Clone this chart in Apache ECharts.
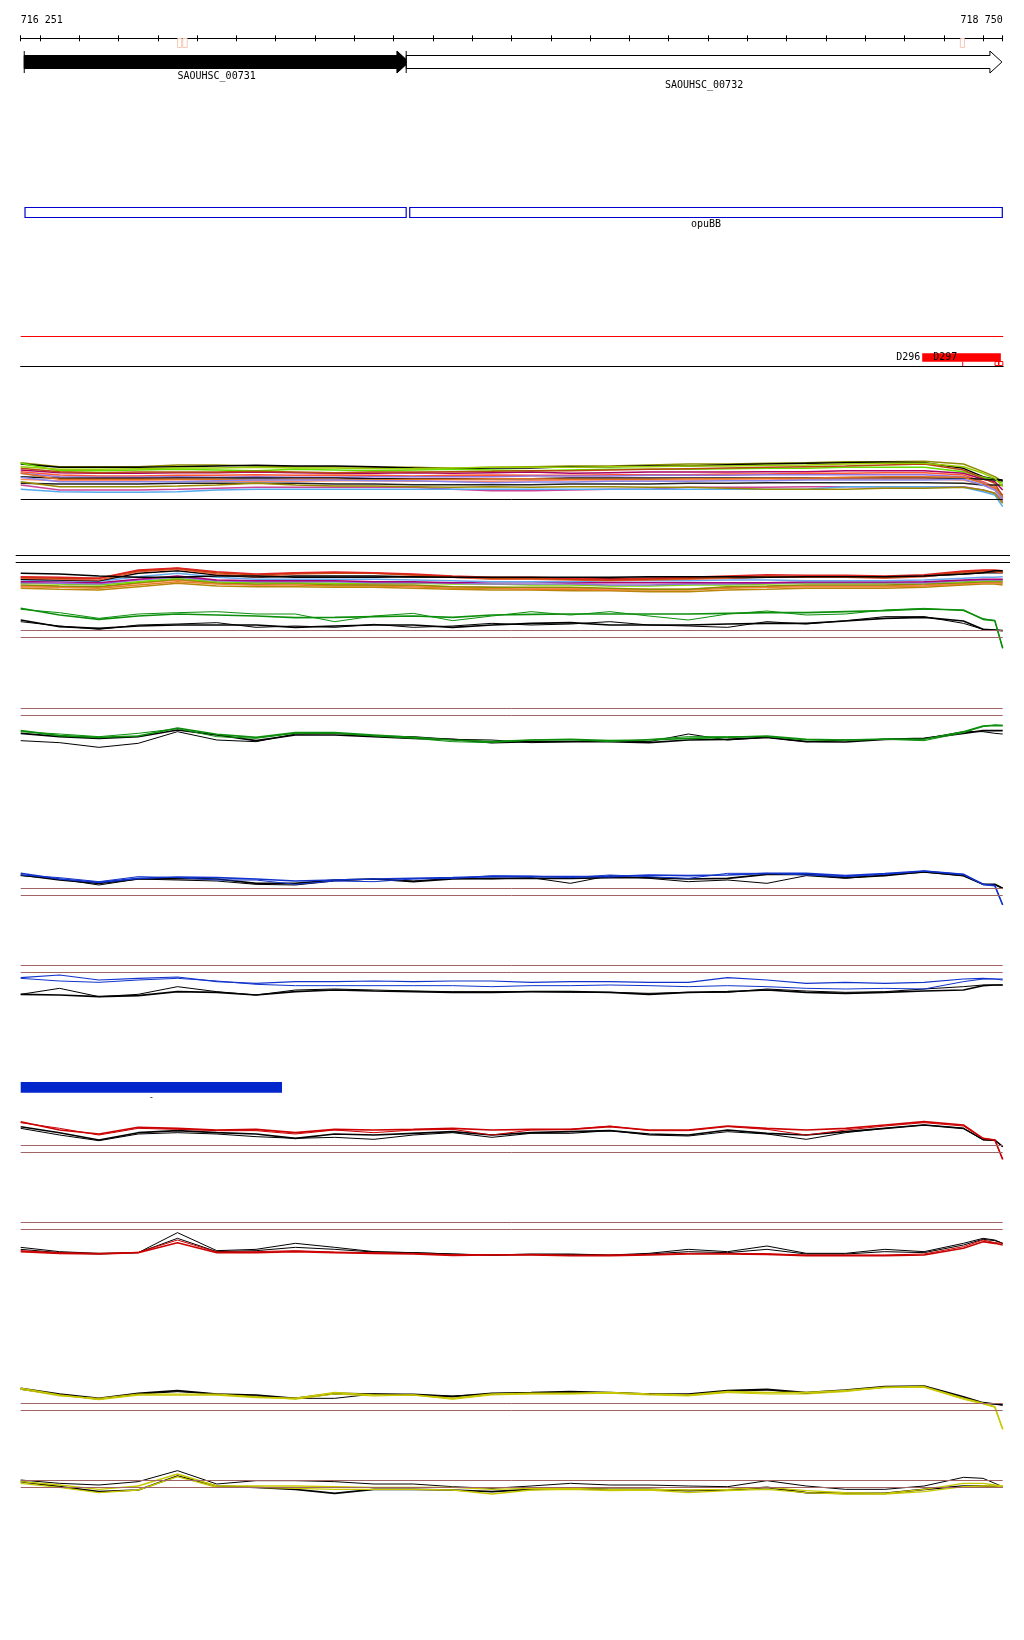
<!DOCTYPE html>
<html><head><meta charset="utf-8">
<script src="https://cdn.jsdelivr.net/npm/echarts@6/dist/echarts.min.js"></script>
<style>html,body{margin:0;padding:0;background:#fff}#c{width:1024px;height:1640px}</style>
</head><body><div id="c"></div>
<script>
// ---------- DATA ----------
const startBp = 716251, endBp = 718750;
const rulerTicks = [716251,716300,716400,716500,716600,716700,716800,716900,717000,717100,717200,717300,717400,717500,717600,717700,717800,717900,718000,718100,718200,718300,718400,718500,718600,718700,718750];
const rulerLabels = [716251, 718750];
const rulerMarks = [[716649,716662],[716662,716676],[718641,718654]];

const geneNames = ['SAOUHSC_00731','SAOUHSC_00732'];
const geneStarts = [716260, 717232];
const geneEnds = [717239, 718748];
const geneFilled = [1, 0];

const operonNames = ['', 'opuBB'];
const operonStarts = [716262, 717241];
const operonEnds = [717232, 718749];

const dLabels = ['D296', 'D297'];
const dBox = [718544, 718744];
const dTicks = [718647];
const dSquares = [[718728,718738],[718738,718749]];

const barStart = 716251, barEnd = 716916, barLabel = '-';

const pos = [716251,716350,716450,716550,716650,716750,716850,716950,717050,717150,717250,717350,717450,717550,717650,717750,717850,717950,718050,718150,718250,718350,718450,718550,718650,718700,718730,718750];

// bundle 1 (depth units)
const b1_olive  = [68,80,80,80,75,75,78,80,80,82,82,85,82,80,78,78,75,72,72,70,68,65,65,64,72,95,110,125];
const b1_black  = [72,82,82,82,80,78,76,78,78,80,84,86,84,84,80,80,78,78,74,72,70,68,66,68,85,110,118,120];
const b1_lime   = [70,92,92,90,88,90,92,88,90,92,90,88,90,92,90,88,88,88,86,85,85,82,82,82,95,112,120,130];
const b1_magenta= [90,98,100,100,98,98,96,98,100,100,98,100,98,96,100,98,96,96,96,95,95,92,92,92,100,118,125,150];
const b1_tomato = [95,105,108,108,106,106,104,106,105,106,108,106,105,106,106,104,104,104,102,102,100,100,98,98,105,125,140,165];
const b1_rust   = [85,95,98,96,96,96,94,96,98,96,96,95,94,92,92,90,88,86,84,82,80,78,75,72,90,115,130,170];
const b1_purple = [100,110,112,112,110,112,110,112,112,110,110,110,110,108,108,108,106,106,106,104,104,104,104,104,110,128,145,175];
const b1_black2 = [110,115,115,115,114,114,114,114,114,116,116,116,116,116,114,114,114,114,114,114,114,114,114,114,115,118,120,122];
const b1_salmon = [118,122,122,122,124,124,124,124,122,122,124,124,124,122,120,120,120,120,120,120,118,118,118,118,120,135,150,180];
const b1_black3 = [130,132,132,132,130,130,130,130,132,132,134,134,134,134,132,132,132,130,130,128,128,128,128,128,130,135,135,135];
const b1_orchid = [135,150,150,150,148,145,142,142,142,142,142,148,152,152,150,148,148,142,142,142,140,140,140,140,140,150,160,185];
const b1_sky    = [148,155,157,157,155,150,148,148,148,148,148,148,148,148,148,148,148,148,148,148,148,140,140,140,142,155,165,200];
const b1_khaki  = [125,140,140,140,138,135,130,135,138,138,140,142,140,142,140,140,142,142,145,148,148,148,145,145,142,150,160,190];
const b1_orange = [100,118,118,118,118,118,120,118,118,120,118,118,116,116,118,118,118,116,116,115,115,112,110,110,112,130,145,175];
const b1_ygreen = [80,88,88,86,84,84,82,84,84,86,86,84,82,82,82,80,80,78,78,76,75,72,70,70,80,100,115,140];
const b1_peri   = [112,125,125,125,125,122,120,120,120,122,122,125,128,126,126,124,124,124,122,122,120,120,120,120,118,135,150,178];
const b1_base = 178;

// bundle 2
const b2_black  = [100,102,108,112,112,108,108,112,112,112,110,112,112,112,112,112,110,110,110,112,110,110,110,108,102,98,92,92];
const b2_rust   = [112,115,115,92,85,98,105,100,98,100,104,110,115,115,118,120,118,115,112,108,110,110,112,108,95,92,92,95];
const b2_coral  = [115,118,120,95,88,102,110,102,100,100,106,112,118,118,120,122,120,118,115,110,112,112,115,110,98,95,95,98];
const b2_black2 = [118,120,122,100,92,105,112,108,108,108,110,112,115,115,115,115,115,115,115,112,112,112,112,108,102,98,98,98];
const b2_sky    = [120,122,124,110,100,112,118,118,118,118,120,122,125,125,125,122,122,122,120,120,122,122,122,120,115,112,112,110];
const b2_magenta= [125,125,128,118,108,120,122,122,122,125,125,128,125,125,128,128,128,128,128,128,126,126,126,125,120,118,118,118];
const b2_lime   = [130,132,135,125,115,125,128,128,130,130,130,132,132,135,135,138,138,135,135,132,130,130,130,128,125,122,122,122];
const b2_olive  = [135,138,140,128,118,128,132,130,135,135,135,140,142,142,142,145,148,148,140,138,135,135,135,132,128,125,125,125];
const b2_orange = [140,142,145,135,125,132,135,135,138,138,140,145,145,148,148,150,150,150,145,142,140,140,140,138,132,128,128,130];
const b2_salmon = [138,140,142,130,120,130,135,132,132,135,138,140,142,145,145,148,148,148,142,140,138,138,138,135,130,128,128,128];
const b2_purple = [128,130,132,120,112,122,125,125,125,128,128,130,132,132,132,135,135,132,132,130,128,128,128,128,122,120,120,120];
const b2_gold   = [145,148,150,140,130,138,140,140,142,142,145,148,150,150,152,152,155,155,150,148,145,145,145,142,135,132,132,135];
const b2_red    = [110,112,115,90,84,95,102,98,96,98,102,108,112,112,115,118,115,112,108,104,106,106,108,104,93,90,90,92];

// green track 1
const g1_greenA = [205,225,238,228,222,225,228,233,232,230,228,232,225,223,222,222,222,222,220,218,218,215,212,207,210,238,242,325];
const g1_greenB = [208,218,235,222,218,215,222,222,245,228,220,242,228,215,225,215,228,240,222,213,225,222,210,205,212,236,242,325];
const g1_blackA = [240,260,265,258,255,255,255,262,258,255,255,262,255,250,248,255,255,255,252,250,250,243,235,232,243,268,270,272];
const g1_blackB = [245,258,268,255,252,248,262,258,262,253,262,258,250,255,252,245,255,258,262,245,252,242,230,230,250,268,270,272];
const g1_ref = [270, 292];
// green track 2
const g2_greenA = [122,137,142,138,114,133,142,128,128,135,142,150,155,150,148,152,150,145,142,138,148,150,147,148,125,108,106,107];
const g2_greenB = [125,132,140,130,116,140,145,130,130,138,145,155,158,150,149,155,148,140,140,140,150,150,148,152,128,110,105,106];
const g2_blackA = [130,140,145,140,120,135,152,135,135,140,145,148,158,155,155,155,158,150,148,142,155,156,148,145,130,122,122,122];
const g2_blackB = [152,158,172,160,125,150,155,132,130,138,140,148,150,158,155,152,155,132,150,142,155,150,148,146,125,125,130,132];
const g2_ref = [55, 76];
// blue track 1
const u1_blueA  = [55,72,82,70,66,68,72,78,75,72,70,68,65,65,65,65,60,62,60,55,55,62,56,48,58,88,92,150];
const u1_blueB  = [60,68,80,65,68,75,75,88,78,80,72,70,62,63,68,60,65,70,55,55,60,65,58,48,58,88,92,150];
const u1_blackA = [60,75,85,72,70,72,85,85,75,72,80,72,70,70,70,68,68,72,70,58,58,68,62,50,62,88,88,100];
const u1_blackB = [62,72,90,72,75,78,88,90,78,72,78,70,72,68,85,62,70,80,75,85,62,70,60,52,62,88,90,100];
const u1_ref = [100, 121];
// blue track 2
const u2_blueA  = [368,360,375,370,366,380,385,380,380,378,380,378,378,382,380,380,382,382,368,375,385,382,385,382,372,370,372,372];
const u2_blueB  = [370,378,382,375,370,378,388,392,392,392,392,392,395,392,392,390,392,395,392,395,400,402,400,402,380,372,372,375];
const u2_blackA = [418,420,425,422,410,412,420,410,405,408,410,412,412,410,410,412,418,412,410,405,412,415,412,408,405,392,390,390];
const u2_blackB = [418,400,425,418,395,410,420,405,402,405,408,410,410,410,412,412,415,412,412,402,408,412,410,402,395,390,390,390];
const u2_ref = [330, 352];
// red track 1
const r1_redA   = [185,210,222,202,205,210,208,218,208,210,208,205,210,208,208,200,210,210,198,205,210,205,195,185,195,235,240,298];
const r1_redB   = [188,205,225,205,208,212,212,222,210,218,210,208,225,210,208,198,212,212,200,208,225,210,198,188,198,235,240,298];
const r1_blackA = [200,218,240,218,212,218,222,235,222,225,220,215,225,218,215,212,222,225,210,220,225,215,205,195,205,238,240,260];
const r1_blackB = [205,225,242,222,218,222,230,235,232,238,225,218,232,220,220,212,225,228,215,222,238,218,205,195,205,240,242,260];
const r1_ref = [256, 277];
// red track 2
const r2_redA   = [125,130,132,128,98,128,128,125,128,130,132,136,135,135,137,137,135,132,132,133,137,137,137,135,115,95,100,105];
const r2_redB   = [122,128,130,127,90,126,125,122,126,128,130,134,134,133,136,135,133,130,130,131,135,135,135,132,110,90,98,100];
const r2_blackA = [112,125,130,128,68,122,118,100,112,125,128,132,135,132,132,135,130,118,125,108,130,130,118,125,100,85,90,100];
const r2_blackB = [118,128,132,128,85,125,122,112,118,126,128,132,136,134,134,136,132,125,128,118,132,132,125,128,105,88,92,100];
const r2_ref = [37, 58];
// yellow track 1
const y1_yelA   = [55,75,88,75,75,75,82,85,68,75,75,85,72,70,70,68,72,75,65,68,68,62,52,50,85,100,110,178];
const y1_yelB   = [58,78,85,72,72,72,80,88,72,78,75,88,75,72,72,70,75,78,68,72,72,65,52,52,88,102,112,178];
const y1_blackA = [55,72,85,70,62,72,75,85,70,72,75,80,70,68,65,68,72,72,62,58,68,60,50,48,80,98,102,105];
const y1_blackB = [58,75,88,72,65,72,78,85,85,72,72,78,72,70,68,68,72,75,65,60,70,62,52,50,82,100,102,105];
const y1_ref = [100, 121];
// yellow track 2
const y2_blackA = [90,100,105,95,62,102,92,92,95,102,102,110,115,108,100,105,105,108,110,92,108,118,118,108,82,85,100,110];
const y2_blackB = [95,110,125,120,78,108,112,118,130,118,118,120,125,118,115,118,118,122,120,112,128,130,130,118,108,108,110,110];
const y2_yelA   = [95,105,118,108,72,108,108,108,110,112,112,112,118,115,115,118,118,120,118,112,122,128,130,118,100,100,105,108];
const y2_yelB   = [100,112,128,120,80,112,112,115,118,118,118,120,132,120,118,122,120,128,122,118,128,132,132,125,110,108,108,110];
const y2_ref = [90, 111];

// ---------- CHART ----------
const FONT = '10px "DejaVu Sans Mono", monospace';
const L = 20.7, W = 982;
const grid = [], xAxis = [], yAxis = [], series = [];
function addGrid(top, height, ymin, ymax, inverse) {
  const g = grid.length;
  grid.push({left: L, top: top, width: W, height: height});
  const x = xAxis.length;
  xAxis.push({type: 'value', gridIndex: g, min: startBp, max: endBp, show: false});
  const y = yAxis.length;
  yAxis.push({type: 'value', gridIndex: g, min: ymin, max: ymax, inverse: !!inverse, show: false});
  return {g: g, x: x, y: y};
}
function lineSeries(ax, vals, color, width, step) {
  return {
    type: 'line', xAxisIndex: ax.x, yAxisIndex: ax.y, silent: true, animation: false,
    symbol: 'none', step: step || false,
    data: pos.map((p, k) => [p, vals[k]]),
    lineStyle: {color: color, width: width}
  };
}
function refLines(vals, color) {
  return {silent: true, symbol: 'none', animation: false, label: {show: false},
    lineStyle: {color: color || '#a06464', width: 1, type: 'solid'},
    emphasis: {disabled: true},
    data: vals.map(v => ({yAxis: v}))};
}

// ruler
const rg = grid.length;
grid.push({left: L, top: 14, width: W, height: 24.3});
xAxis.push({type: 'value', gridIndex: rg, min: startBp, max: endBp, position: 'bottom',
  axisLine: {show: true, lineStyle: {color: '#000', width: 1}},
  axisTick: {show: true, customValues: rulerTicks, length: 3, inside: false, lineStyle: {color: '#000'}},
  axisLabel: {show: false}, splitLine: {show: false}});
xAxis.push({type: 'value', gridIndex: rg, min: startBp, max: endBp, position: 'bottom',
  axisLine: {show: false},
  axisTick: {show: true, customValues: rulerTicks, length: 3, inside: true, lineStyle: {color: '#000'}},
  axisLabel: {show: false}, splitLine: {show: false}});
yAxis.push({type: 'value', gridIndex: rg, min: 0, max: 1, show: false});
series.push({
  type: 'custom', xAxisIndex: 0, yAxisIndex: 0, silent: true, animation: false,
  data: rulerLabels.map(v => [v]),
  renderItem: function (params, api) {
    const p = api.coord([api.value(0), 0]);
    const s = String(api.value(0)).replace(/(\d{3})(\d{3})/, '$1 $2');
    return {type: 'text', style: {text: s, x: p[0], y: 20, font: FONT, fill: '#000',
      align: params.dataIndex === 0 ? 'left' : 'right', verticalAlign: 'middle'}};
  }
});
series.push({
  type: 'custom', xAxisIndex: 0, yAxisIndex: 0, silent: true, animation: false,
  data: rulerMarks,
  renderItem: function (params, api) {
    const a = api.coord([api.value(0), 0]), b = api.coord([api.value(1), 0]);
    return {type: 'rect', shape: {x: a[0] + 0.5, y: 38.5, width: b[0] - a[0] - 1, height: 9},
      style: {fill: 'none', stroke: '#f6c8b6', lineWidth: 1}};
  }
});

// genes
const ga = addGrid(51, 22, 0, 1);
series.push({
  type: 'custom', xAxisIndex: ga.x, yAxisIndex: ga.y, silent: true, animation: false,
  data: geneStarts.map((s, i) => [s, geneEnds[i], geneFilled[i]]),
  renderItem: function (params, api) {
    const a = api.coord([api.value(0), 0.5]), b = api.coord([api.value(1), 0.5]);
    const cy = 62, x0 = a[0], x1 = b[0], bh = 6.5, hh = 11, hl = 12;
    const pts = [[x0, cy - bh], [x1 - hl, cy - bh], [x1 - hl, cy - hh], [x1, cy], [x1 - hl, cy + hh], [x1 - hl, cy + bh], [x0, cy + bh]];
    const filled = api.value(2) === 1;
    return {type: 'group', children: [
      {type: 'polygon', shape: {points: pts}, style: {fill: filled ? '#000' : '#fff', stroke: '#000', lineWidth: 1}},
      {type: 'line', shape: {x1: x0, y1: cy - hh, x2: x0, y2: cy + hh}, style: {stroke: '#000', lineWidth: 1}},
      {type: 'text', style: {text: geneNames[params.dataIndex], x: (x0 + x1) / 2, y: cy + 14 + (params.dataIndex % 2) * 9,
        font: FONT, fill: '#000', align: 'center', verticalAlign: 'middle'}}
    ]};
  }
});

// operon boxes
const oa = addGrid(207, 10, 0, 1);
series.push({
  type: 'custom', xAxisIndex: oa.x, yAxisIndex: oa.y, silent: true, animation: false,
  data: operonStarts.map((s, i) => [s, operonEnds[i]]),
  renderItem: function (params, api) {
    const a = api.coord([api.value(0), 1]), b = api.coord([api.value(1), 0]);
    return {type: 'group', children: [
      {type: 'rect', shape: {x: a[0], y: a[1] + 0.5, width: b[0] - a[0], height: b[1] - a[1]},
        style: {fill: 'none', stroke: '#0000d0', lineWidth: 1.2}},
      {type: 'text', style: {text: operonNames[params.dataIndex], x: (a[0] + b[0]) / 2, y: b[1] + 7,
        font: FONT, fill: '#000', align: 'center', verticalAlign: 'middle'}}
    ]};
  }
});

// D track (red line + features + baseline)
const dg = grid.length;
grid.push({left: L, top: 330, width: W + 0.5, height: 36});
const dx = xAxis.length;
xAxis.push({type: 'value', gridIndex: dg, min: startBp, max: endBp, position: 'bottom',
  axisLine: {show: true, lineStyle: {color: '#000', width: 1.2}}, axisTick: {show: false},
  axisLabel: {show: false}, splitLine: {show: false}});
const dy = yAxis.length;
yAxis.push({type: 'value', gridIndex: dg, min: 0, max: 36, show: false});
series.push({
  type: 'custom', xAxisIndex: dx, yAxisIndex: dy, silent: true, animation: false,
  data: [dBox],
  markLine: refLines([30], '#ff0000'),
  renderItem: function (params, api) {
    const a = api.coord([api.value(0), 0]), b = api.coord([api.value(1), 0]);
    const base = a[1];
    return {type: 'group', children: [
      {type: 'rect', shape: {x: a[0], y: base - 12.7, width: b[0] - a[0], height: 8.4}, style: {fill: '#ff0000'}},
      {type: 'text', style: {text: dLabels[0], x: a[0] - 2, y: base - 8.5, font: FONT, fill: '#000', align: 'right', verticalAlign: 'middle'}},
      {type: 'text', style: {text: dLabels[1], x: a[0] + 11, y: base - 8.5, font: FONT, fill: '#000', align: 'left', verticalAlign: 'middle'}}
    ]};
  }
});
series.push({
  type: 'custom', xAxisIndex: dx, yAxisIndex: dy, silent: true, animation: false,
  data: dTicks.map(v => [v]),
  renderItem: function (params, api) {
    const a = api.coord([api.value(0), 0]);
    return {type: 'line', shape: {x1: a[0], y1: a[1] - 4.5, x2: a[0], y2: a[1]}, style: {stroke: '#ff0000', lineWidth: 1}};
  }
});
series.push({
  type: 'custom', xAxisIndex: dx, yAxisIndex: dy, silent: true, animation: false,
  data: dSquares,
  renderItem: function (params, api) {
    const a = api.coord([api.value(0), 0]), b = api.coord([api.value(1), 0]);
    return {type: 'rect', shape: {x: a[0] + 0.5, y: a[1] - 4.5, width: b[0] - a[0] - 0.5, height: 4}, style: {fill: 'none', stroke: '#ff0000', lineWidth: 1}};
  }
});

// bundle 1
const p1 = addGrid(455, 55, 45, 210, true);
const b1 = [[b1_olive,'#8c8c00'],[b1_black,'#000000'],[b1_lime,'#66dd00'],[b1_magenta,'#aa0066'],[b1_tomato,'#ff5533'],
  [b1_rust,'#b84a10'],[b1_purple,'#9370db'],[b1_black2,'#111111'],[b1_salmon,'#ff8866'],[b1_black3,'#222222'],
  [b1_orchid,'#cc4499'],[b1_sky,'#55aaee'],[b1_khaki,'#998800'],[b1_orange,'#e07020'],[b1_ygreen,'#99cc00'],[b1_peri,'#8888ee']];
b1.forEach((d, i) => {
  const s = lineSeries(p1, d[0], d[1], 1.5);
  if (i === 0) s.markLine = refLines([b1_base], '#000');
  series.push(s);
});

// bundle 2
const p2 = addGrid(565, 35, 75, 180, true);
const b2 = [[b2_gold,'#b8860b'],[b2_orange,'#e08020'],[b2_salmon,'#ff7f50'],[b2_olive,'#8c8c00'],[b2_lime,'#77dd00'],
  [b2_purple,'#9370db'],[b2_magenta,'#aa0077'],[b2_sky,'#66aaee'],[b2_black2,'#000000'],[b2_coral,'#e06040'],
  [b2_rust,'#c04000'],[b2_red,'#dd2222'],[b2_black,'#000000']];
b2.forEach(d => series.push(lineSeries(p2, d[0], d[1], 1.5)));

function trackPanel(top, height, vmin, vmax, lines, ref) {
  const ax = addGrid(top, height, vmin, vmax, true);
  lines.forEach((d, i) => {
    const s = lineSeries(ax, d[0], d[1], d[2]);
    if (i === 0) s.markLine = refLines(ref);
    series.push(s);
  });
}
const GREEN = '#0d8f0d', BLUE = '#1133cc', RED = '#cc0000', YEL = '#c8c800', BLK = '#000000';
trackPanel(600, 52, 180, 336, [[g1_blackB, BLK, 1],[g1_blackA, BLK, 1.6],[g1_greenB, GREEN, 1],[g1_greenA, GREEN, 1.6]], g1_ref);
trackPanel(700, 55, 30, 195, [[g2_blackB, BLK, 1],[g2_blackA, BLK, 1.6],[g2_greenB, GREEN, 1],[g2_greenA, GREEN, 1.6]], g2_ref);
trackPanel(862, 48, 21, 165, [[u1_blackB, BLK, 1],[u1_blackA, BLK, 1.6],[u1_blueB, BLUE, 1],[u1_blueA, BLUE, 1.6]], u1_ref);
trackPanel(960, 42, 315, 441, [[u2_blackB, BLK, 1],[u2_blackA, BLK, 1.6],[u2_blueB, BLUE, 1],[u2_blueA, BLUE, 1.2]], u2_ref);

// blue bar
const bb = addGrid(1082, 10.7, 0, 1);
series.push({
  type: 'custom', xAxisIndex: bb.x, yAxisIndex: bb.y, silent: true, animation: false,
  data: [[barStart, barEnd]],
  renderItem: function (params, api) {
    const a = api.coord([api.value(0), 1]), b = api.coord([api.value(1), 0]);
    return {type: 'group', children: [
      {type: 'rect', shape: {x: a[0], y: a[1], width: b[0] - a[0], height: b[1] - a[1]}, style: {fill: '#0026cc'}},
      {type: 'text', style: {text: barLabel, x: (a[0] + b[0]) / 2, y: b[1] + 5, font: '8px "DejaVu Sans Mono"', fill: '#000', align: 'center', verticalAlign: 'middle'}}
    ]};
  }
});

trackPanel(1110, 52, 150, 306, [[r1_blackB, BLK, 1],[r1_blackA, BLK, 1.6],[r1_redB, RED, 1],[r1_redA, RED, 1.6]], r1_ref);
trackPanel(1218, 47, 24, 165, [[r2_blackA, BLK, 1],[r2_blackB, BLK, 1],[r2_redB, RED, 1],[r2_redA, RED, 1.6]], r2_ref);
trackPanel(1378, 54, 24, 186, [[y1_blackB, BLK, 1],[y1_blackA, BLK, 1.6],[y1_yelB, YEL, 1],[y1_yelA, YEL, 1.6]], y1_ref);
trackPanel(1462, 38, 36, 150, [[y2_blackA, BLK, 1],[y2_blackB, BLK, 1.6],[y2_yelA, YEL, 1.4],[y2_yelB, YEL, 1.4]], y2_ref);

const chart = echarts.init(document.getElementById('c'), null, {renderer: 'canvas', width: 1024, height: 1640});
chart.setOption({
  animation: false,
  backgroundColor: '#ffffff',
  grid: grid, xAxis: xAxis, yAxis: yAxis, series: series,
  graphic: [
    {type: 'line', shape: {x1: 15.7, y1: 555.5, x2: 1010, y2: 555.5}, style: {stroke: '#000', lineWidth: 1.2}, silent: true},
    {type: 'line', shape: {x1: 15.7, y1: 562.5, x2: 1010, y2: 562.5}, style: {stroke: '#000', lineWidth: 1.2}, silent: true}
  ]
});
</script>
</body></html>
